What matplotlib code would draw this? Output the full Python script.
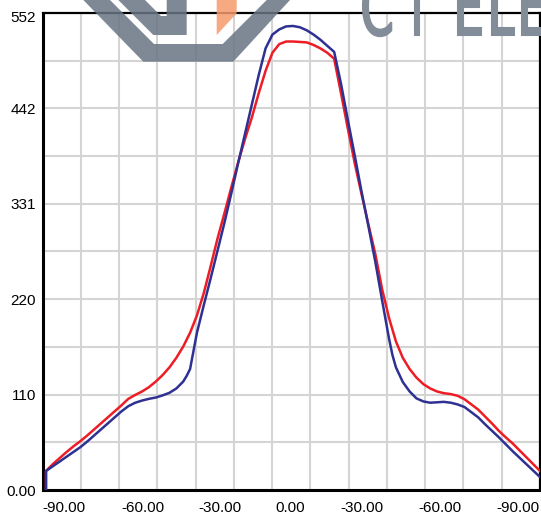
import numpy as np
import matplotlib.pyplot as plt
from matplotlib.patches import Polygon, PathPatch
from matplotlib.textpath import TextPath
from matplotlib.font_manager import FontProperties
from matplotlib.transforms import Affine2D, IdentityTransform

W, H = 541, 518

# angles (deg); -90 appears twice so the curves start at zero
red_angles = [-90] + list(np.arange(-90, 90.1, 2.5))
blue_angles = sorted([-90] + list(np.arange(-90, 90.1, 2.5)) + [-38.75, -36.25, 36.25])

red_vals = [0, 22, 30, 37, 44, 50.5, 56.5, 63, 70, 77, 84, 91, 98, 105.5, 110, 114,
            119, 125.5, 133, 142, 153, 166, 182, 202, 228, 259, 291, 320, 350, 379,
            406, 431, 459, 485, 506, 516, 519, 519, 518.5, 518, 515, 511, 506, 499,
            459, 418, 378, 342, 307, 273, 232, 199, 172, 153, 140, 130, 122.5, 117.5,
            114, 112, 111, 109, 105, 99, 93, 85, 77, 68.5, 61, 54, 46, 38, 30, 22]

blue_vals = [0, 22, 27.5, 33, 38.5, 44, 49.5, 56, 63, 70, 77, 84, 91, 97, 101, 103.5,
             105.5, 107, 109.5, 112.5, 117.5, 125.5, 132, 140, 161, 182, 214, 245, 277,
             309, 343, 378, 412, 446, 480, 511, 527, 533, 536.5, 537, 535.5, 532, 527,
             521, 514, 507, 470, 428, 387, 345, 305, 264, 219, 175, 156, 142, 125, 114,
             106, 102.5, 101, 101.5, 102, 101, 99, 96, 90, 84, 76, 68.5, 61, 53, 45,
             37.5, 30, 22.5, 15]

y_ticks = [0, 110.4, 220.8, 331.2, 441.6, 552]
y_labels = ['0.00', '110', '220', '331', '442', '552']
x_tick_pos = [-83.4, -54.8, -26.6, -0.9, 25.3, 53.6, 81.8]
x_labels = ['-90.00', '-60.00', '-30.00', '0.00', '-30.00', '-60.00', '-90.00']

plt.rcParams['font.family'] = ['Liberation Sans', 'DejaVu Sans']

fig = plt.figure(figsize=(W / 100, H / 100), dpi=100)
ax = fig.add_axes([42.7 / W, (H - 490) / H, (540 - 42.7) / W, (490 - 13) / H])

xmin, xmax = -91.2, 90
ax.set_xlim(xmin, xmax)
ax.set_ylim(0, 552)

ax.plot(red_angles, red_vals, color='#ee1c25', lw=1.8, solid_joinstyle='round', zorder=3)
ax.plot(blue_angles, blue_vals, color='#2e3192', lw=1.8, solid_joinstyle='round', zorder=4)

# grid: 13 vertical divisions, y every 55.2
ax.set_xticks(x_tick_pos)
ax.set_xticklabels(x_labels)
ax.set_xticks(np.linspace(xmin, xmax, 14)[1:-1], minor=True)
ax.set_yticks(y_ticks)
ax.set_yticklabels(y_labels)
ax.set_yticks([55.2, 165.6, 276, 386.4, 496.8], minor=True)
ax.grid(False)
ax.xaxis.grid(True, which='minor', color='#d4d4d4', lw=1.5)
ax.yaxis.grid(True, which='both', color='#d4d4d4', lw=1.5)
ax.set_axisbelow(True)
ax.tick_params(which='both', length=0)
ax.tick_params(axis='y', labelsize=11, pad=5)
ax.tick_params(axis='x', labelsize=11, pad=8)

lab = ax.get_yticklabels()[-1]
lab.set_transform(lab.get_transform() + Affine2D().translate(0, -4))

for side in ['left', 'bottom']:
    ax.spines[side].set_linewidth(2.2)
for side in ['top', 'right']:
    ax.spines[side].set_linewidth(1.6)


# watermark logo, drawn in image pixel coords
def px(pts):
    return [(x, H - y) for x, y in pts]


logo_gray = '#697584'
chevron = [(83.3, 0), (143.3, 61.7), (233.3, 61.7), (290, 0), (266.7, 0),
           (222.7, 44), (154, 44), (110, 0)]
inner = [(118.3, 0), (153.3, 35), (186.7, 35), (186.7, 0), (166.7, 0),
         (166.7, 16), (161, 16), (145, 0)]
orange = [(216.7, 0), (236.7, 0), (236.7, 13.3), (216.7, 35)]
for pts, col in [(chevron, logo_gray), (inner, logo_gray), (orange, '#f69b6c')]:
    fig.add_artist(Polygon(px(pts), closed=True, facecolor=col, edgecolor='none',
                           alpha=0.85, transform=IdentityTransform(), zorder=10))

fp = FontProperties(family='DejaVu Sans')
letters = [('C', 363, 'left'), ('T', 417, 'center'), ('E', 458, 'left'),
           ('L', 492, 'left'), ('E', 522, 'left')]
for ch, xpos, align in letters:
    tp = TextPath((0, 0), ch, size=80, prop=fp)
    ext = tp.get_extents()
    sx = 0.6
    if align == 'left':
        dx = xpos - ext.x0 * sx
    else:
        dx = xpos - (ext.x0 + ext.x1) / 2 * sx
    tr = Affine2D().scale(sx, 1).translate(dx, H - 35)
    fig.add_artist(PathPatch(tr.transform_path(tp), facecolor='#838d99',
                             edgecolor='#838d99', lw=1.5,
                             transform=IdentityTransform(), zorder=10))

fig.savefig('out.png', dpi=100)
